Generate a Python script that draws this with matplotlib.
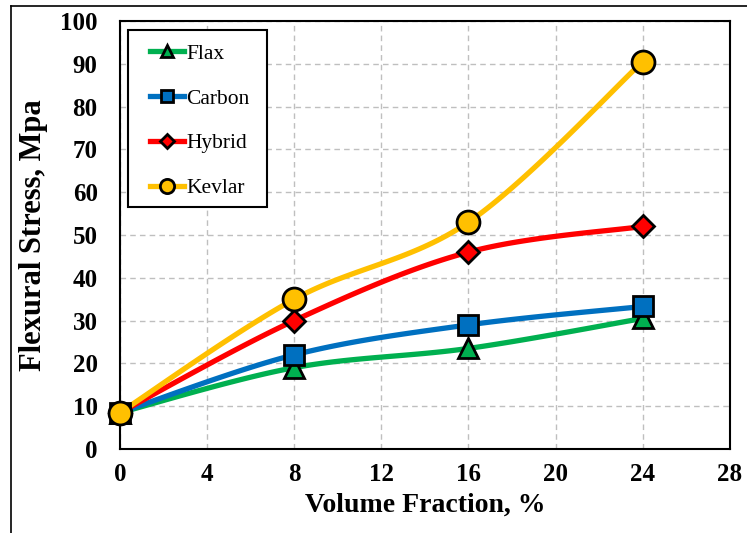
import matplotlib.pyplot as plt
import numpy as np
from matplotlib.lines import Line2D
from matplotlib.patches import Rectangle

# volume fraction (%) and flexural stress (MPa)
volume_fraction = [0, 8, 16, 24]
flax = [8.5, 19.0, 23.5, 30.5]
carbon = [8.5, 22.0, 29.0, 33.3]
hybrid = [8.5, 30.0, 46.0, 52.0]
kevlar = [8.5, 35.0, 53.0, 90.5]

x_ticks = [0, 4, 8, 12, 16, 20, 24, 28]
y_ticks = [0, 10, 20, 30, 40, 50, 60, 70, 80, 90, 100]


def excel_smooth(x, y, n=40):
    # bezier smoothing like Excel's "smoothed line"
    x = np.asarray(x, float)
    y = np.asarray(y, float)
    pts = np.column_stack([x, y])
    out = [pts[0]]
    for i in range(len(pts) - 1):
        p0 = pts[i - 1] if i > 0 else pts[i]
        p1 = pts[i]
        p2 = pts[i + 1]
        p3 = pts[i + 2] if i + 2 < len(pts) else pts[i + 1]
        c1 = p1 + (p2 - p0) / 6.0
        c2 = p2 - (p3 - p1) / 6.0
        t = np.linspace(0, 1, n)[1:, None]
        seg = ((1 - t) ** 3) * p1 + 3 * ((1 - t) ** 2) * t * c1 + 3 * (1 - t) * t ** 2 * c2 + t ** 3 * p2
        out.extend(seg)
    out = np.array(out)
    return out[:, 0], out[:, 1]


plt.rcParams['font.family'] = ['Liberation Serif', 'DejaVu Serif']

fig = plt.figure(figsize=(7.47, 5.33), dpi=100)
ax = fig.add_axes([0.1606, 0.1576, 0.8164, 0.803])

series = [
    ("Flax", flax, "#00B050", "^", 15),
    ("Carbon", carbon, "#0070C0", "s", 15),
    ("Hybrid", hybrid, "#FF0000", "D", 11),
    ("Kevlar", kevlar, "#FFC000", "o", 16.5),
]

handles = []
for name, vals, col, mk, ms in series:
    sx, sy = excel_smooth(volume_fraction, vals)
    ax.plot(sx, sy, color=col, lw=3.8, solid_capstyle='round', zorder=3)
    ax.plot(volume_fraction, vals, ls='none', marker=mk, ms=ms, mfc=col,
            mec='black', mew=2, zorder=4, clip_on=False)
    handles.append(Line2D([], [], color=col, lw=3.8, marker=mk, ms=ms * 0.62,
                          mfc=col, mec='black', mew=2, label=name))

ax.set_xlim(0, 28)
ax.set_ylim(0, 100)
ax.set_xticks(x_ticks)
ax.set_yticks(y_ticks)
ax.tick_params(length=0, labelsize=18)
ax.tick_params(axis='y', pad=16)
ax.tick_params(axis='x', pad=10)
for lab in ax.get_xticklabels() + ax.get_yticklabels():
    lab.set_fontweight('bold')
ax.grid(True, color='#bfbfbf', ls=(0, (4, 3)), lw=1)
ax.set_axisbelow(True)
for sp in ax.spines.values():
    sp.set_linewidth(1.5)
    sp.set_color('black')

ax.set_xlabel("Volume Fraction, %", fontsize=20, fontweight='bold', labelpad=5)
ax.set_ylabel("Flexural Stress, Mpa", fontsize=22, fontweight='bold', labelpad=9)

# legend box drawn separately so the padding can match
ax.add_patch(Rectangle((0.0131, 0.565), 0.228, 0.414, transform=ax.transAxes,
                       facecolor='white', edgecolor='black', lw=1.5, zorder=5))
leg = ax.legend(handles=handles, loc='upper left', bbox_to_anchor=(0.049, 0.947),
                fontsize=15.5, frameon=False,
                handlelength=1.6, handletextpad=0.1, labelspacing=1.15,
                borderpad=0, borderaxespad=0)
leg.set_zorder(6)

# outer border (left and top visible)
fig.add_artist(Line2D([11 / 747, 11 / 747], [0, 1 - 6 / 533], color='black', lw=1.2,
                      transform=fig.transFigure))
fig.add_artist(Line2D([11 / 747, 1], [1 - 6 / 533, 1 - 6 / 533], color='black', lw=1.2,
                      transform=fig.transFigure))

fig.savefig("out.png", dpi=100)
